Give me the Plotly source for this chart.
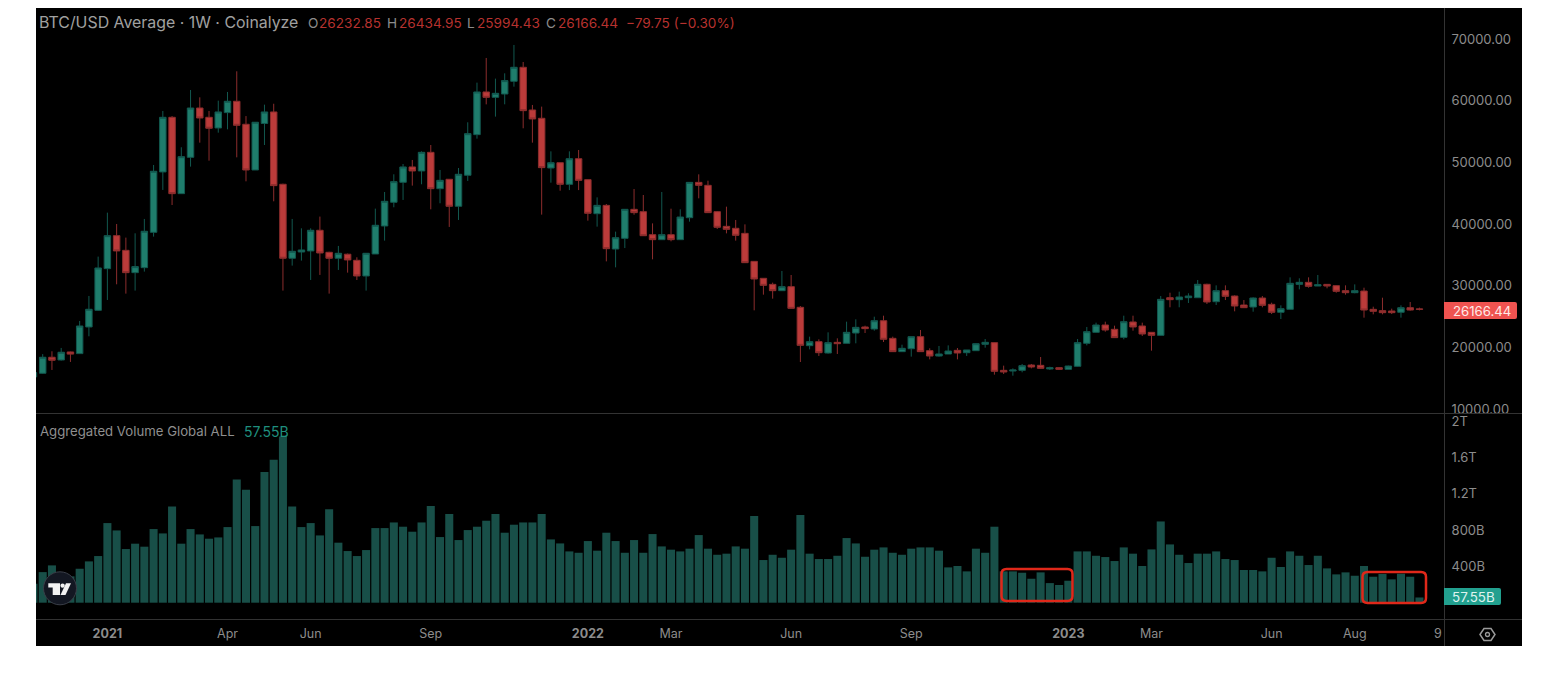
import pandas as pd
import plotly.graph_objects as go

WEEK0 = "2020-11-09"
# weekly candles, thousands of USD
OPEN_K = [15.2,
 15.79,18.39,17.95,19.25,18.98,23.3,26.0,32.76,38.11,35.73,
 32.11,32.92,38.65,48.44,57.3,44.92,50.81,58.81,57.3,55.57,
 58.06,59.9,56.17,48.76,56.3,58.17,46.44,34.44,35.46,35.63,
 38.98,35.41,34.44,35.1,34.11,31.57,35.14,39.68,43.52,46.76,
 49.25,48.6,51.62,45.73,47.25,42.87,47.9,54.49,61.41,60.54,
 61.08,63.14,65.41,58.49,57.14,49.08,49.94,46.43,50.59,47.19,
 41.67,43.02,35.94,37.67,42.38,42.0,38.27,37.46,38.27,37.46,
 41.02,46.75,46.27,42.0,39.62,39.3,38.48,33.94,31.19,30.21,
 29.19,29.84,26.49,20.27,20.92,19.08,20.81,20.65,22.32,23.3,
 22.97,24.32,21.46,19.3,19.78,21.73,19.46,18.59,18.92,19.51,
 19.13,19.46,20.49,20.76,16.27,16.16,16.27,17.13,17.08,16.49,
 16.7,16.43,16.92,20.65,22.43,23.62,22.92,21.62,24.11,23.46,
 22.43,21.94,28.05,27.73,28.05,28.05,30.22,27.4,29.19,28.32,
 26.86,26.54,28.0,26.97,25.68,26.16,30.21,30.54,29.94,30.21,
 30.0,29.19,28.86,29.13,26.16,25.95,25.89,25.68,26.43,26.23285]
HIGH_K = [16.2,
 18.9,19.36,19.9,19.3,24.28,28.33,34.71,41.84,40.0,37.79,
 38.49,40.82,49.57,58.33,57.5,52.44,61.73,60.54,58.33,60.0,
 61.41,64.76,57.5,56.5,59.35,59.5,46.54,40.82,39.3,39.3,
 41.2,35.5,36.44,35.2,34.6,35.25,42.49,45.19,48.06,49.73,
 50.38,51.79,52.81,48.76,47.25,49.08,56.49,62.92,66.92,63.57,
 64.43,69.03,66.27,59.3,59.03,51.78,49.94,51.78,52.0,47.24,
 44.32,43.24,38.76,42.38,45.67,44.7,40.1,45.19,42.48,42.38,
 46.75,48.05,47.02,42.1,42.81,40.65,39.94,33.94,31.19,30.49,
 32.38,31.73,26.7,21.73,21.3,22.43,21.46,24.16,24.54,23.51,
 24.97,25.13,21.73,20.43,21.73,22.81,19.84,20.22,20.32,19.89,
 19.57,20.65,21.35,20.81,17.03,16.59,17.3,17.3,18.43,16.86,
 16.76,17.03,21.35,23.3,24.0,24.16,23.51,25.13,25.13,24.0,
 22.49,28.32,28.86,29.03,28.76,30.92,30.32,30.05,30.05,28.43,
 27.67,28.11,28.32,27.24,26.81,31.35,31.19,31.35,31.73,30.27,
 30.05,30.05,30.21,29.67,26.59,28.05,26.27,26.81,27.35,26.43495]
LOW_K = [14.6,
 15.7,16.33,17.85,17.63,18.98,21.79,25.9,27.68,30.22,28.71,
 29.2,32.28,37.95,45.52,43.08,44.92,49.3,53.19,50.27,54.81,
 55.35,50.81,46.92,48.76,52.81,43.68,29.2,33.25,34.06,30.92,
 31.74,28.71,32.55,32.11,30.92,29.2,35.14,37.3,42.71,43.9,
 46.22,46.44,42.38,43.36,39.52,40.65,46.98,53.84,59.4,57.41,
 59.41,62.27,55.52,53.19,41.52,46.7,45.4,45.5,45.5,40.54,
 39.57,33.94,32.97,36.1,41.5,38.1,34.27,37.46,37.19,37.46,
 40.38,44.16,41.84,39.19,38.48,37.3,33.73,26.0,28.54,27.89,
 29.19,26.32,17.62,19.67,18.6,18.97,18.92,20.65,20.65,22.32,
 22.7,20.86,19.3,19.3,18.49,19.3,18.05,18.49,18.92,18.05,
 18.6,19.46,19.94,15.57,15.67,15.4,15.95,16.59,16.54,16.32,
 16.32,16.43,16.86,20.32,22.38,22.54,21.57,21.3,22.7,21.84,
 19.46,21.89,26.49,26.49,27.19,28.05,27.03,26.86,27.67,25.84,
 26.38,25.78,26.49,25.4,24.59,26.11,29.4,29.67,29.94,29.57,
 28.86,28.54,28.76,24.81,25.35,25.35,25.4,24.81,25.95,25.99443]
CLOSE_K = [15.9,
 18.39,17.9,19.2,18.9,23.46,26.17,32.87,38.11,35.63,32.11,
 33.09,38.82,48.55,57.3,44.92,50.92,58.81,57.19,55.52,58.17,
 59.9,56.0,48.76,56.5,58.17,46.22,34.44,35.57,35.79,38.98,
 35.3,34.44,35.25,34.17,31.57,35.25,39.79,43.68,46.87,49.25,
 48.6,51.62,45.73,47.08,42.87,48.06,54.65,61.41,60.54,61.19,
 63.25,65.41,58.38,57.03,49.14,49.94,46.43,50.59,47.08,41.73,
 43.02,36.0,37.78,42.38,41.84,38.1,37.46,38.27,37.46,41.13,
 46.75,46.27,41.84,39.46,39.13,38.16,33.73,31.08,30.05,29.19,
 29.84,26.32,20.32,20.92,19.13,20.76,20.59,22.43,23.24,23.03,
 24.32,21.3,19.3,19.84,21.73,19.3,18.59,18.92,19.4,19.08,
 19.57,20.59,20.81,16.11,16.0,16.32,17.03,16.81,16.59,16.7,
 16.43,16.97,20.76,22.54,23.62,22.81,21.57,24.16,23.3,22.16,
 21.94,27.78,27.73,28.16,28.32,30.22,27.35,29.19,28.27,26.7,
 26.43,28.0,26.81,25.68,26.27,30.38,30.54,29.89,30.16,29.94,
 29.08,28.86,29.19,26.05,25.84,25.62,25.62,26.43,26.05,26.16644]
VOLUME_B = [209,
 337,411,300,290,374,455,514,877,796,591,
 650,617,811,763,1061,650,811,752,705,719,
 833,1358,1244,844,1439,1574,1831,1061,833,877,
 741,1028,661,569,514,580,822,822,884,837,
 782,884,1064,723,976,690,800,837,903,976,
 771,859,884,884,976,697,653,565,550,679,
 573,771,679,550,690,550,756,620,584,565,
 595,745,595,528,540,620,595,954,470,528,
 495,584,965,540,481,481,517,712,653,506,
 584,609,550,528,595,609,609,573,389,404,
 345,595,550,837,345,345,330,264,334,216,
 195,242,565,565,517,503,459,609,540,404,
 587,895,642,528,437,540,540,565,481,470,
 360,360,345,495,393,565,517,415,517,378,
 312,334,297,404,286,316,257,319,286,57.55]

PRICE_TICKS = [10000, 20000, 30000, 40000, 50000, 60000, 70000]
VOLUME_TICKS = [400, 800, 1200, 1600, 2000]
VOLUME_TICK_TEXT = ["400B", "800B", "1.2T", "1.6T", "2T"]
DATE_TICKS = ["2021-01-04", "2021-04-05", "2021-06-07", "2021-09-06", "2022-01-03", "2022-03-07",
              "2022-06-06", "2022-09-05", "2023-01-02", "2023-03-06", "2023-06-05", "2023-08-07", "2023-10-09"]
DATE_TICK_TEXT = ["<b>2021</b>", "Apr", "Jun", "Sep", "<b>2022</b>", "Mar", "Jun", "Sep",
                  "<b>2023</b>", "Mar", "Jun", "Aug", "9"]

W, H = 1544, 676
FONT = "Inter, Roboto, sans-serif"
GREY = "#8c8c8c"
LINE = "#333333"
UP, UP_WICK = "#1f7d6c", "#12584f"
DOWN, DOWN_WICK = "#bb3b3a", "#8c2d2d"
VOL = "#184f48"

weeks = pd.date_range(WEEK0, periods=len(OPEN_K), freq="7D")


def X(p):
    return p / W


def Y(p):
    return 1 - p / H


def path(points, close=True):
    s = "M " + " L ".join(f"{X(a):.5f},{Y(b):.5f}" for a, b in points)
    return s + (" Z" if close else "")


def rrect(x0, y0, x1, y1, r, left=True):
    rl = r if left else 0
    return (f"M {X(x0+rl):.5f},{Y(y0):.5f} L {X(x1-r):.5f},{Y(y0):.5f} "
            f"Q {X(x1):.5f},{Y(y0):.5f} {X(x1):.5f},{Y(y0+r):.5f} L {X(x1):.5f},{Y(y1-r):.5f} "
            f"Q {X(x1):.5f},{Y(y1):.5f} {X(x1-r):.5f},{Y(y1):.5f} L {X(x0+rl):.5f},{Y(y1):.5f} "
            f"Q {X(x0):.5f},{Y(y1):.5f} {X(x0):.5f},{Y(y1-rl):.5f} L {X(x0):.5f},{Y(y0+rl):.5f} "
            f"Q {X(x0):.5f},{Y(y0):.5f} {X(x0+rl):.5f},{Y(y0):.5f} Z")


def shape(p, fill=None, color=None, width=0, layer="above"):
    return dict(type="path", xref="paper", yref="paper", path=p, fillcolor=fill or "rgba(0,0,0,0)",
                line=dict(color=color or "rgba(0,0,0,0)", width=width), layer=layer)


def circle(cx, cy, r, fill=None, color=None, width=0):
    return dict(type="circle", xref="paper", yref="paper", x0=X(cx - r), x1=X(cx + r), y0=Y(cy + r), y1=Y(cy - r),
                fillcolor=fill or "rgba(0,0,0,0)", line=dict(color=color or "rgba(0,0,0,0)", width=width))


def text(x, y, s, color=GREY, size=13, anchor="left"):
    return dict(xref="paper", yref="paper", x=X(x), y=Y(y), text=s, showarrow=False, xanchor=anchor, yanchor="middle",
                align=anchor, borderpad=0, font=dict(family=FONT, size=size, color=color))


fig = go.Figure()
fig.add_trace(go.Candlestick(
    x=weeks, open=[v * 1000 for v in OPEN_K], high=[v * 1000 for v in HIGH_K],
    low=[v * 1000 for v in LOW_K], close=[v * 1000 for v in CLOSE_K],
    increasing=dict(fillcolor=UP, line=dict(color=UP_WICK, width=1)),
    decreasing=dict(fillcolor=DOWN, line=dict(color=DOWN_WICK, width=1)),
    xaxis="x", yaxis="y", showlegend=False))
fig.add_trace(go.Bar(x=weeks, y=VOLUME_B, marker=dict(color=VOL, line=dict(width=0)),
                     xaxis="x", yaxis="y2", showlegend=False))

shapes = [
    dict(type="rect", xref="paper", yref="paper", x0=X(36), x1=X(1522), y0=Y(646), y1=Y(8),
         fillcolor="#000000", line=dict(width=0), layer="below"),
    shape(path([(1444.5, 8), (1444.5, 646)], close=False), color=LINE, width=1),
    shape(path([(36, 413.5), (1522, 413.5)], close=False), color=LINE, width=1),
    shape(path([(36, 619.5), (1522, 619.5)], close=False), color=LINE, width=1),
    shape(rrect(1001.5, 569, 1072.5, 601, 5), color="#e0281a", width=2.5),
    shape(rrect(1362.5, 572, 1426, 603, 5), color="#e0281a", width=2.5),
    shape(rrect(1444, 302, 1517, 319, 2, left=False), fill="#ef5350"),
    shape(rrect(1444, 588, 1501, 605, 2, left=False), fill="#22a08f"),
    circle(60, 588.3, 16.5, fill="#131722", color="#3a3e48", width=1),
    shape(path([(48.3, 583.3), (60, 583.3), (60, 595), (52.7, 595), (52.7, 587.5), (48.3, 587.5)]), fill="#f2f2f2"),
    circle(62.6, 585.6, 2.2, fill="#f2f2f2"),
    shape(path([(66, 583.3), (71, 583.3), (65.5, 595), (60.5, 595)]), fill="#f2f2f2"),
    shape(path([(1480, 634.5), (1484, 628.5), (1491, 628.5), (1495, 634.5), (1491, 640.5), (1484, 640.5)]),
          color="#9a9a9a", width=1.5),
    circle(1487.5, 634.5, 2, color="#9a9a9a", width=1.3),
]

RED = "#b7322f"
annotations = [
    text(38, 22, "BTC/USD Average · 1W · Coinalyze", "#a0a0a0", 15.9),
    text(307, 23, "O", GREY, 13.6), text(317.5, 23, "26232.85", RED, 13.6),
    text(386, 23, "H", GREY, 13.6), text(398, 23, "26434.95", RED, 13.6),
    text(466, 23, "L", GREY, 13.6), text(476, 23, "25994.43", RED, 13.6),
    text(545, 23, "C", GREY, 13.6), text(557, 23, "26166.44", RED, 13.6),
    text(625, 23, "−79.75 (−0.30%)", RED, 13.6),
    text(38.5, 431, "Aggregated Volume Global ALL", "#8f8f8f", 13.2),
    text(243, 431, "57.55B", "#1f8f7e", 14),
    text(1452, 310.5, "26166.44", "#ffe9e7", 13.2),
    text(1451, 596.7, "57.55B", "#dff3ef", 13.4),
]

fig.update_layout(
    width=W, height=H, margin=dict(l=0, r=0, t=0, b=0, pad=0),
    paper_bgcolor="#ffffff", plot_bgcolor="#000000", showlegend=False,
    boxgap=0.3, boxgroupgap=0, bargap=0.13,
    font=dict(family=FONT, size=12.5, color=GREY), shapes=shapes, annotations=annotations,
    xaxis=dict(domain=[X(36), X(1444)], anchor="y2", type="date", range=["2020-11-10 22:00", "2023-10-13 14:30"],
               automargin=False, rangeslider=dict(visible=False), showgrid=False, zeroline=False, showline=False,
               tickmode="array", tickvals=DATE_TICKS, ticktext=DATE_TICK_TEXT,
               ticks="outside", ticklen=3, tickcolor="rgba(0,0,0,0)", tickfont=dict(size=12.5, color=GREY)),
    yaxis=dict(domain=[Y(413.5), Y(8)], side="right", anchor="x", range=[9270, 75025], showgrid=False, zeroline=False,
               automargin=False, tickmode="array", tickvals=PRICE_TICKS, tickformat=".2f", ticks="outside", ticklen=4,
               tickcolor="rgba(0,0,0,0)", tickfont=dict(size=13, color=GREY)),
    yaxis2=dict(domain=[Y(619), Y(413.5)], side="right", anchor="x", range=[-179.5, 2084], showgrid=False, zeroline=False,
                automargin=False, tickmode="array", tickvals=VOLUME_TICKS, ticktext=VOLUME_TICK_TEXT, ticks="outside", ticklen=4,
                tickcolor="rgba(0,0,0,0)", tickfont=dict(size=13, color=GREY)),
)

fig.write_html("out.html", config=dict(displayModeBar=False),
               post_script="document.body.style.margin='0';document.body.style.overflow='hidden';")
